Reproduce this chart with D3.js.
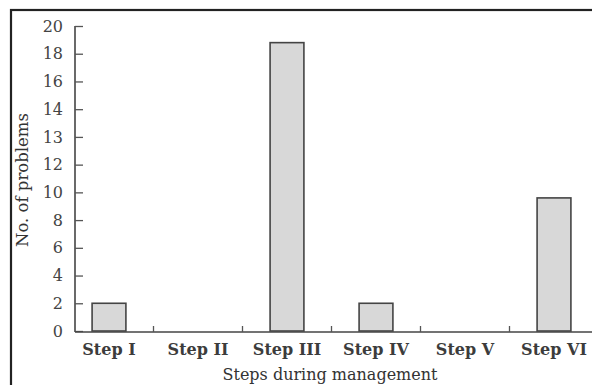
<!DOCTYPE html>
<html>
<head>
<meta charset="utf-8">
<script src="https://cdn.jsdelivr.net/npm/d3@7"></script>
<style>
  html, body { margin: 0; padding: 0; background: #fff; }
  svg { display: block; }
</style>
</head>
<body>
<svg id="chart" width="592" height="385"></svg>
<script>
const categories = ["Step I", "Step II", "Step III", "Step IV", "Step V", "Step VI"];
const problems = [2, 0, 18.8, 2, 0, 9.6];
const yTickLabels = ["0", "2", "4", "6", "8", "10", "12", "13", "14", "16", "18", "20"];
const xTitle = "Steps during management";
const yTitle = "No. of problems";

const svg = d3.select("#chart");
const font = "'DejaVu Serif', 'Liberation Serif', serif";
const ink = "#333";

// outer frame (extends past right / bottom edges)
svg.append("rect")
  .attr("x", 11).attr("y", 10)
  .attr("width", 640).attr("height", 420)
  .attr("fill", "none").attr("stroke", "#222").attr("stroke-width", 2.2);

const tickVals = yTickLabels.map(Number);
const y0 = 331, y1 = 26;
const y = d3.scaleLinear()
  .domain(tickVals)
  .range(tickVals.map((d, i) => y0 - (y0 - y1) * i / (tickVals.length - 1)));

const x = d3.scaleBand()
  .domain(categories)
  .range([64.5, 598.5])
  .paddingInner(0.62)
  .paddingOuter(0.31);

const axisX = 75;

// y axis
const yAxis = d3.axisRight(y)
  .tickValues(tickVals)
  .tickFormat((d, i) => yTickLabels[i])
  .tickSize(8)
  .tickSizeOuter(0);
const gy = svg.append("g").attr("transform", `translate(${axisX},0)`).call(yAxis);
gy.select(".domain").attr("stroke", "#444").attr("stroke-width", 1.6)
  .attr("d", `M0,${y1}V${y0 + 1}`);
gy.selectAll(".tick line").attr("stroke", "#555").attr("stroke-width", 1.3);
gy.selectAll(".tick text")
  .attr("x", -12)
  .attr("text-anchor", "end")
  .attr("font-family", font)
  .attr("font-size", 16)
  .attr("fill", "#444");

// x axis baseline
const xAxis = d3.axisBottom(x).tickSize(0).tickSizeOuter(0);
const gx = svg.append("g").attr("transform", `translate(0,${y0 + 1})`).call(xAxis);
gx.select(".domain").attr("stroke", "#444").attr("stroke-width", 1.6)
  .attr("d", `M${axisX},0H600`);
gx.selectAll(".tick text")
  .attr("y", 12)
  .attr("font-family", font)
  .attr("font-size", 16)
  .attr("font-weight", "bold")
  .attr("fill", "#3c3c3c");

// bars (drawn over the baseline so zero bars show as a thick line)
svg.append("g").selectAll("rect")
  .data(categories.map((c, i) => ({ c, v: problems[i] })))
  .join("rect")
  .attr("x", d => x(d.c))
  .attr("y", d => y(d.v))
  .attr("width", x.bandwidth())
  .attr("height", d => y(0) - y(d.v))
  .attr("fill", "#d8d8d8")
  .attr("stroke", d => d.v === 0 ? "#222" : "#444")
  .attr("stroke-width", d => d.v === 0 ? 3 : 1.6);

// separator ticks between categories
const step = x.step();
const bounds = categories.slice(1).map(c => x(c) - step * x.paddingInner() / 2);
svg.append("g").selectAll("line")
  .data(bounds)
  .join("line")
  .attr("x1", d => d).attr("x2", d => d)
  .attr("y1", y0 + 1).attr("y2", y0 - 5)
  .attr("stroke", "#555").attr("stroke-width", 1.3);

// axis titles
svg.append("text")
  .attr("x", 330).attr("y", 380)
  .attr("text-anchor", "middle")
  .attr("font-family", font)
  .attr("font-size", 16)
  .attr("fill", ink)
  .text(xTitle);

svg.append("text")
  .attr("transform", "translate(28,180) rotate(-90)")
  .attr("text-anchor", "middle")
  .attr("font-family", font)
  .attr("font-size", 16.5)
  .attr("fill", ink)
  .text(yTitle);
</script>
</body>
</html>
